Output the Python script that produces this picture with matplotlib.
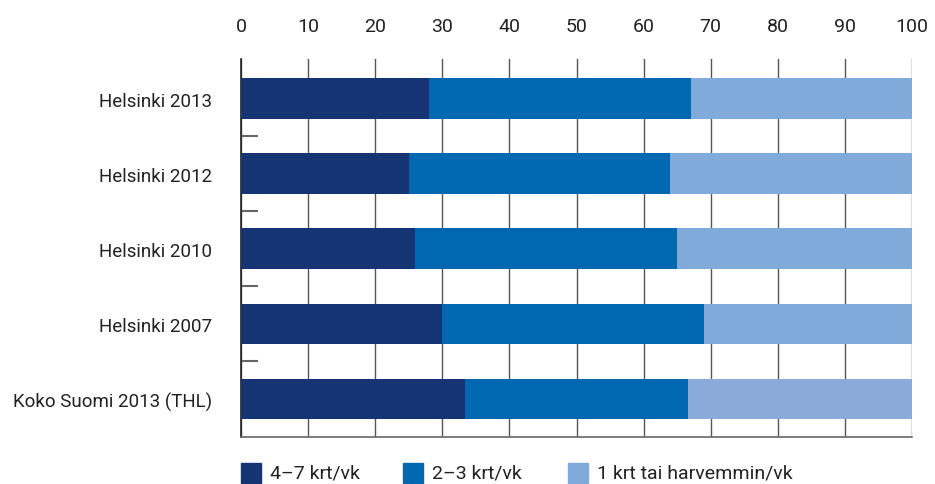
import matplotlib

matplotlib.use("Agg")
import matplotlib.pyplot as plt
from matplotlib.patches import Rectangle

plt.rcParams["font.family"] = ["Roboto", "DejaVu Sans"]

categories = [
    "Helsinki 2013",
    "Helsinki 2012",
    "Helsinki 2010",
    "Helsinki 2007",
    "Koko Suomi 2013 (THL)",
]
series_names = ["4–7 krt/vk", "2–3 krt/vk", "1 krt tai harvemmin/vk"]
often = [28, 25, 26, 30, 33.4]
sometimes = [39, 39, 39, 39, 33.2]
rarely = [33, 36, 35, 31, 33.4]
x_ticks = list(range(0, 101, 10))

dark = "#143473"
mid = "#0068B0"
light = ["#7FAAD9", "#7FAAD9", "#7FAAD9", "#7FAAD9", "#8AAAD9"]
text_color = "#222222"

W, H = 935, 485
fig = plt.figure(figsize=(W / 100, H / 100), dpi=100)
ax = fig.add_axes([241 / W, 1 - 438 / H, (912 - 241) / W, (438 - 60) / H])

y = list(range(len(categories)))
h = 0.54
ax.barh(y, often, height=h, color=dark, zorder=3)
ax.barh(y, sometimes, left=often, height=h, color=mid, zorder=3)
left3 = [a + b for a, b in zip(often, sometimes)]
ax.barh(y, rarely, left=left3, height=h, color=light, zorder=3)

ax.set_xlim(0, 100)
ax.set_ylim(4.507, -0.526)
ax.set_xticks(x_ticks)
ax.xaxis.tick_top()
ax.tick_params(axis="x", length=0, pad=17, labelsize=14, labelcolor=text_color)
ax.grid(axis="x", color="#555555", linewidth=1, zorder=1)

ax.set_yticks(y)
ax.set_yticklabels(categories)
ax.set_yticks([0.5, 1.5, 2.5, 3.5], minor=True)
ax.tick_params(axis="y", which="major", length=0, pad=21, labelsize=13.5, labelcolor=text_color)
ax.tick_params(axis="y", which="minor", direction="in", length=12, width=1.5, color="#666666")

for side in ["top", "right"]:
    ax.spines[side].set_visible(False)
ax.spines["left"].set_color("#222222")
ax.spines["bottom"].set_color("#666666")
ax.spines["left"].set_linewidth(1.2)
ax.spines["bottom"].set_linewidth(1.2)

# legend along the bottom
legend_boxes = [241, 403, 568]
legend_colors = [dark, mid, light[0]]
for x0, col, name in zip(legend_boxes, legend_colors, series_names):
    fig.patches.append(
        Rectangle((x0 / W, 1 - 484 / H), 20 / W, 20 / H,
                  transform=fig.transFigure, color=col)
    )
    fig.text((x0 + 29) / W, 1 - 474 / H, name, fontsize=14,
             color=text_color, va="center", ha="left")

fig.savefig("out.png", dpi=100)
